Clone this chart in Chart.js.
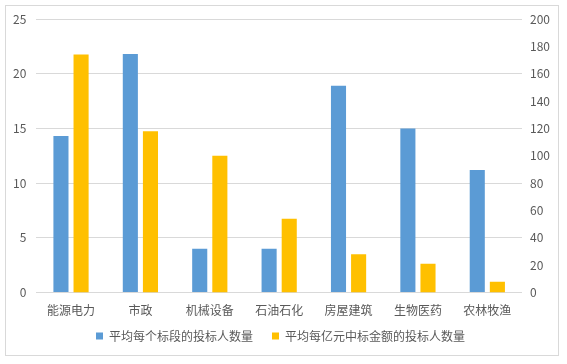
<!DOCTYPE html>
<html>
<head>
<meta charset="utf-8">
<script src="https://cdn.jsdelivr.net/npm/chart.js@4.4.0/dist/chart.umd.min.js"></script>
<style>
  html, body { margin: 0; padding: 0; background: #fff; }
  #wrap { position: relative; width: 567px; height: 364px; }
</style>
</head>
<body>
<div id="wrap"><canvas id="bidChart" width="567" height="364"></canvas></div>
<script>
const categories = ["能源电力", "市政", "机械设备", "石油石化", "房屋建筑", "生物医药", "农林牧渔"];
const perLot = [14.3, 21.8, 4.0, 4.0, 18.9, 15.0, 11.2];
const perHundredMillion = [174, 118, 100, 54, 28, 21, 8];
const leftTicks = [0, 5, 10, 15, 20, 25];
const rightTicks = [0, 20, 40, 60, 80, 100, 120, 140, 160, 180, 200];

const textColor = "#595959";
const gridColor = "#d9d9d9";
const fontFamily = "'Noto Sans CJK SC', 'Noto Sans', sans-serif";

const frame = {
  id: "frame",
  beforeDraw(chart) {
    const ctx = chart.ctx;
    ctx.save();
    ctx.fillStyle = "#fff";
    ctx.fillRect(0, 0, chart.width, chart.height);
    ctx.strokeStyle = gridColor;
    ctx.lineWidth = 1;
    ctx.strokeRect(5.5, 5.5, 553, 350);
    ctx.restore();
  },
};

new Chart(document.getElementById("bidChart"), {
  type: "bar",
  data: {
    labels: categories,
    datasets: [
      {
        label: "平均每个标段的投标人数量",
        data: perLot,
        backgroundColor: "#5b9bd5",
        yAxisID: "y",
      },
      {
        label: "平均每亿元中标金额的投标人数量",
        data: perHundredMillion,
        backgroundColor: "#ffc000",
        yAxisID: "y1",
      },
    ],
  },
  options: {
    responsive: false,
    animation: false,
    layout: { padding: { left: 3, right: 9, top: 19, bottom: 12 } },
    datasets: {
      bar: { categoryPercentage: 0.58, barPercentage: 0.75 },
    },
    plugins: {
      legend: {
        position: "bottom",
        labels: {
          color: textColor,
          font: { family: fontFamily, size: 12 },
          boxWidth: 7,
          boxHeight: 7,
          padding: 1,
          // widen the gap after the first entry (padding also sets vertical space)
          generateLabels: (chart) => {
            const items = Chart.defaults.plugins.legend.labels.generateLabels(chart);
            items[0].text += "\u3000\u2002";
            return items;
          },
        },
      },
      tooltip: { enabled: false },
    },
    scales: {
      x: {
        grid: { display: false, drawTicks: false },
        border: { display: false },
        ticks: {
          color: textColor,
          font: { family: fontFamily, size: 12 },
          padding: 11,
          maxRotation: 0,
        },
      },
      y: {
        position: "left",
        min: 0,
        max: 25,
        afterBuildTicks: (axis) => {
          axis.ticks = leftTicks.map((v) => ({ value: v }));
        },
        grid: { color: gridColor, drawTicks: false },
        border: { display: false },
        ticks: {
          color: textColor,
          font: { family: fontFamily, size: 12 },
          padding: 10,
        },
      },
      y1: {
        position: "right",
        min: 0,
        max: 200,
        afterBuildTicks: (axis) => {
          axis.ticks = rightTicks.map((v) => ({ value: v }));
        },
        grid: { display: false, drawTicks: false },
        border: { display: false },
        ticks: {
          color: textColor,
          font: { family: fontFamily, size: 12 },
          padding: 8,
        },
      },
    },
  },
  plugins: [frame],
});
</script>
</body>
</html>
